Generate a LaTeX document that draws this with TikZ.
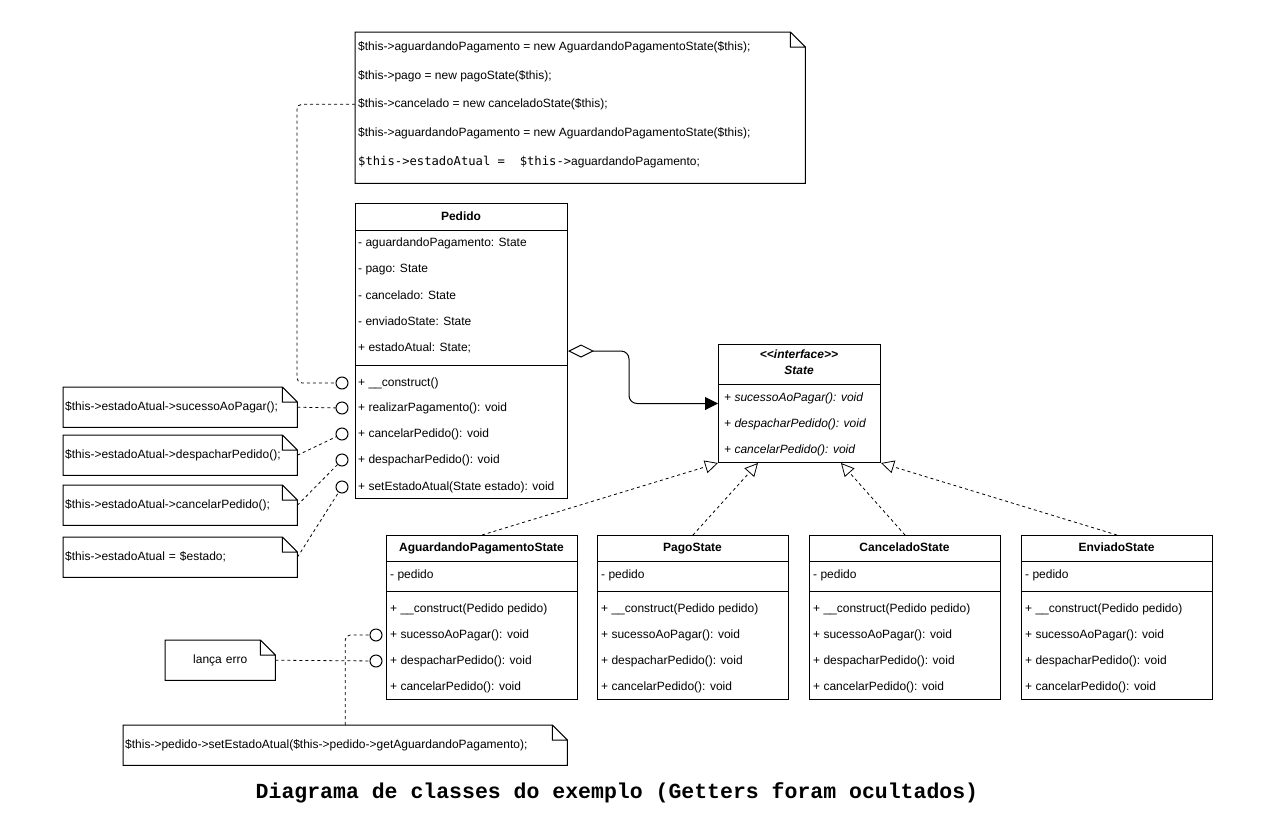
\documentclass[tikz,border=0pt]{standalone}
\usepackage{fontspec}
\setmainfont{Liberation Sans}
\setmonofont{Liberation Mono}
\newfontfamily\codefont{DejaVu Sans Mono}
\usetikzlibrary{arrows.meta}
\newcommand\umlfont{\fontsize{12}{14}\selectfont}

\begin{document}
\begin{tikzpicture}[
  x=1pt,
  y=-1pt,
  every node/.style={
    font=\umlfont,
  },
  classbox/.style={
    draw=black,
    line width=1pt,
    anchor=north west,
    inner sep=0pt,
  },
  classname/.style={
    font=\umlfont\bfseries,
    inner sep=0pt,
    text height=8.6pt,
    text depth=2.6pt,
  },
  member/.style={
    anchor=west,
    inner sep=0pt,
    text height=8.6pt,
    text depth=2.6pt,
  },
  abstract member/.style={
    member,
    font=\umlfont\itshape,
  },
  port/.style={
    circle,
    draw=black,
    line width=1pt,
    fill=white,
    minimum size=12pt,
    inner sep=0pt,
  },
  umlnote/.style={
    anchor=north west,
    minimum height=40pt,
    inner xsep=2pt,
    inner ysep=0pt,
    align=left,
  },
  note body/.style={
    draw=black,
    line width=1pt,
  },
  note link/.style={
    draw=black,
    line width=0.8pt,
    dash pattern=on 3pt off 3pt,
  },
  realization/.style={
    note link,
    -{Triangle[open,length=13pt,width=13pt,fill=white]},
  },
  aggregation/.style={
    draw=black,
    line width=1pt,
    rounded corners=8pt,
    {Diamond[open,length=26pt,width=13pt,fill=white]}-{Triangle[length=13pt,width=13pt]},
  },
]
\useasboundingbox (0,0) rectangle (1262,812);

\node[umlnote, minimum width=450pt, minimum height=151pt] (codeNote) at (355,32) {};
\foreach \y/\code [count=\i] in {
  47/\$this->aguardandoPagamento = new AguardandoPagamentoState(\$this);,
  76/\$this->pago = new pagoState(\$this);,
  104/\$this->cancelado = new canceladoState(\$this);,
  133/\$this->aguardandoPagamento = new AguardandoPagamentoState(\$this);}
  \node[member] (codeLine\i) at (358,\y) {\code};
\node[member] (codeLine5) at (358,162)
  {{\codefont\fontsize{12.2}{14}\selectfont\$this->estadoAtual =\ \ \$this->}aguardandoPagamento;};

\node[umlnote, text width=230pt] (noteSucesso) at (63,387) {\$this->estadoAtual->sucessoAoPagar();};
\node[umlnote, text width=230pt] (noteDespachar) at (63,435) {\$this->estadoAtual->despacharPedido();};
\node[umlnote, text width=230pt] (noteCancelar) at (63,485) {\$this->estadoAtual->cancelarPedido();};
\node[umlnote, text width=230pt] (noteEstado) at (63,537) {\$this->estadoAtual = \$estado;};
\node[umlnote, text width=106pt, align=center] (noteErro) at (165,640) {lança erro};
\node[umlnote, text width=440pt] (notePedido) at (123,725)
  {\$this->pedido->setEstadoAtual(\$this->pedido->getAguardandoPagamento);};

\foreach \n in {codeNote,noteSucesso,noteDespachar,noteCancelar,noteEstado,noteErro,notePedido}
  \draw[note body] (\n.south west) |- ([xshift=-15pt]\n.north east)
    -- ([yshift=-15pt]\n.north east) -- (\n.south east) -- cycle
    ([xshift=-15pt]\n.north east) |- ([yshift=-15pt]\n.north east);

\node[classbox, minimum width=212pt, minimum height=295pt] (pedido) at (355,203) {};
\node[classname] (pedidoName) at (461,217) {Pedido};
\draw[line width=1pt] (355,230) -- (567,230) (355,365) -- (567,365);
\foreach \y/\t [count=\i] in {243/- aguardandoPagamento: State, 269/- pago: State,
  296/- cancelado: State, 322/- enviadoState: State, 348/+ estadoAtual: State;}
  \node[member] (pedidoAttr\i) at (358,\y) {\t};
\foreach \y/\t [count=\i] in {383/+ \_\_construct(), 408/+ realizarPagamento(): void,
  434/+ cancelarPedido(): void, 460/+ despacharPedido(): void,
  487/+ setEstadoAtual(State estado): void}
{
  \node[member] (pedidoOp\i) at (358,\y) {\t};
  \node[port] (pedidoPort\i) at (342,\y) {};
}

\node[classbox, minimum width=162pt, minimum height=118pt] (state) at (718,344) {};
\node[classname, font=\umlfont\bfseries\itshape] (stateStereo) at (799,355) {<{}<interface>{}>};
\node[classname, font=\umlfont\bfseries\itshape] (stateName) at (799,371) {State};
\draw[line width=1pt] (718,384) -- (880,384);
\foreach \y/\t [count=\i] in {398/+ sucessoAoPagar(): void, 424/+ despacharPedido(): void,
  450/+ cancelarPedido(): void}
  \node[abstract member] (stateOp\i) at (724,\y) {\t};

\foreach \x/\name/\cls in {386/AguardandoPagamentoState/aguardando, 597/PagoState/pago,
  809/CanceladoState/cancelado, 1021/EnviadoState/enviado}
{
  \node[classbox, minimum width=191pt, minimum height=164pt] (\cls) at (\x,535) {};
  \node[classname] (\cls Name) at (\x+95.5,548) {\name};
  \draw[line width=1pt] (\x,561) -- (\x+191,561) (\x,591) -- (\x+191,591);
  \node[member] (\cls Attr) at (\x+4,575) {- pedido};
  \foreach \y/\t [count=\i] in {609/+ \_\_construct(Pedido pedido), 635/+ sucessoAoPagar(): void,
    661/+ despacharPedido(): void, 687/+ cancelarPedido(): void}
    \node[member] (\cls Op\i) at (\x+4,\y) {\t};
}
\node[port] (aguardandoPort1) at (376,635) {};
\node[port] (aguardandoPort2) at (376,661) {};

\draw[aggregation] (pedido.east) -- ++(61,0) |- (state.west);

\draw[realization] (aguardando.north) -- (state.south west);
\draw[realization] (pago.north) -- ([xshift=40pt]state.south west);
\draw[realization] (cancelado.north) -- ([xshift=-40pt]state.south east);
\draw[realization] (enviado.north) -- (state.south east);

\draw[note link, rounded corners=5pt] ([yshift=3.5pt]codeNote.west) -- ++(-58,0) |- (pedidoPort1);
\draw[note link] (noteSucesso.east) -- (pedidoPort2);
\draw[note link] (noteDespachar.east) -- (pedidoPort3);
\draw[note link] (noteCancelar.east) -- (pedidoPort4);
\draw[note link] (noteEstado.east) -- (pedidoPort5);
\draw[note link] (noteErro.east) -- (aguardandoPort2);
\draw[note link, rounded corners=5pt] (notePedido.north) |- (aguardandoPort1);

\node[font=\fontsize{21.5}{24}\selectfont\ttfamily\bfseries, inner sep=0pt] (caption) at (617,793)
  {Diagrama de classes do exemplo (Getters foram ocultados)};
\end{tikzpicture}
\end{document}
